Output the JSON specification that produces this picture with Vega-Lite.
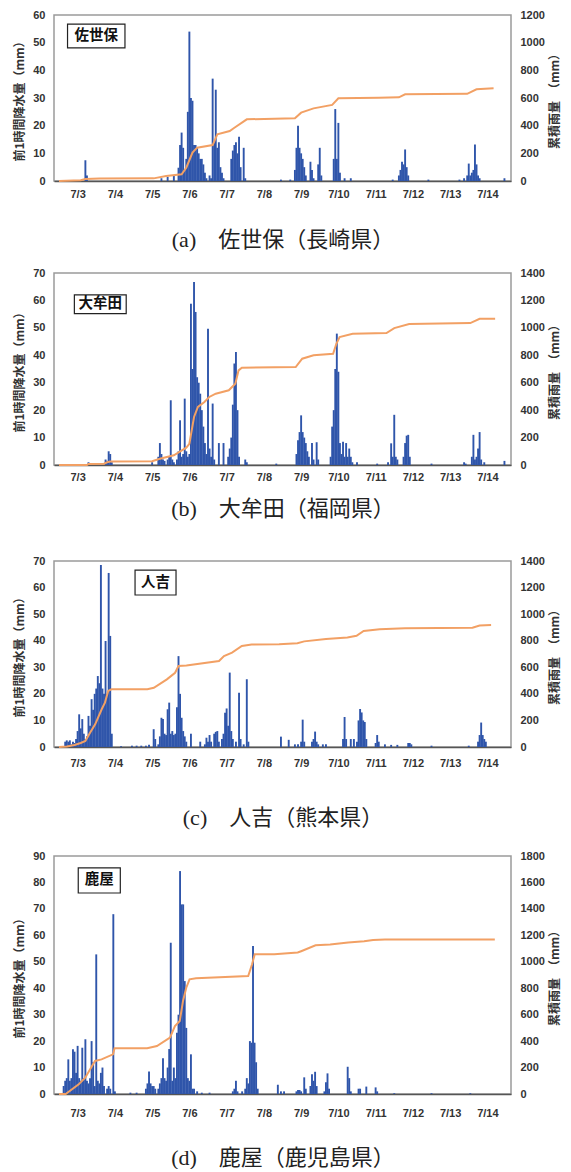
{
"$schema": "https://vega.github.io/schema/vega-lite/v6.json",
"padding": {"top": 8, "left": 13, "right": 0, "bottom": 0},
"spacing": 15,
"config": {
  "view": {"stroke": "#9a9a9a", "strokeWidth": 1.5},
  "axis": {"grid": false, "ticks": false, "domain": false, "labelFont": "Liberation Sans", "labelFontWeight": "bold", "labelFontSize": 11, "labelColor": "#333333", "titleFont": "Noto Sans CJK JP", "titleFontWeight": "bold", "titleFontSize": 12, "titleColor": "#333333"}
},
"datasets": {
  "a_bars": [{"h":17,"r":7.5},{"h":18,"r":2},{"h":66,"r":1},{"h":70,"r":1.5},{"h":74,"r":2},{"h":77,"r":4.8},{"h":78,"r":13},{"h":79,"r":17.5},{"h":80,"r":12},{"h":81,"r":4},{"h":82,"r":8},{"h":83,"r":25},{"h":84,"r":54},{"h":85,"r":30},{"h":86,"r":29},{"h":87,"r":13},{"h":88,"r":13},{"h":89,"r":12},{"h":90,"r":10},{"h":91,"r":8},{"h":92,"r":8},{"h":93,"r":6},{"h":94,"r":3},{"h":95,"r":1},{"h":97,"r":2},{"h":98,"r":1},{"h":99,"r":37},{"h":100,"r":14},{"h":101,"r":33},{"h":102,"r":12},{"h":103,"r":14},{"h":104,"r":5},{"h":105,"r":3},{"h":106,"r":1},{"h":111,"r":8},{"h":112,"r":11},{"h":113,"r":13},{"h":114,"r":14},{"h":115,"r":10},{"h":116,"r":16},{"h":117,"r":5},{"h":119,"r":12},{"h":120,"r":1},{"h":143,"r":0.5},{"h":149,"r":0.5},{"h":152,"r":4},{"h":153,"r":12},{"h":154,"r":20},{"h":155,"r":12},{"h":156,"r":10},{"h":157,"r":8},{"h":158,"r":5},{"h":159,"r":2},{"h":162,"r":7},{"h":163,"r":4},{"h":164,"r":1},{"h":167,"r":6},{"h":168,"r":12},{"h":169,"r":2},{"h":177,"r":8},{"h":178,"r":26},{"h":179,"r":8},{"h":180,"r":21},{"h":181,"r":3},{"h":184,"r":1},{"h":188,"r":1},{"h":215,"r":0.5},{"h":219,"r":2},{"h":220,"r":4},{"h":221,"r":7},{"h":222,"r":6},{"h":223,"r":11.4},{"h":224,"r":5},{"h":225,"r":2},{"h":238,"r":0.5},{"h":258,"r":0.5},{"h":261,"r":1},{"h":263,"r":2},{"h":264,"r":6.3},{"h":265,"r":2},{"h":266,"r":3},{"h":267,"r":4},{"h":268,"r":13.2},{"h":269,"r":6},{"h":270,"r":2},{"h":271,"r":1},{"h":287,"r":1}],
  "a_cum": [{"h":0,"c":0},{"h":14,"c":5},{"h":17,"c":15},{"h":26,"c":18},{"h":61,"c":19},{"h":69,"c":36},{"h":79,"c":48},{"h":82,"c":96},{"h":86,"c":205},{"h":89,"c":241},{"h":99,"c":260},{"h":102,"c":337},{"h":110,"c":361},{"h":113,"c":385},{"h":121,"c":446},{"h":152,"c":453},{"h":156,"c":494},{"h":164,"c":525},{"h":176,"c":550},{"h":180,"c":598},{"h":206,"c":602},{"h":219,"c":605},{"h":223,"c":627},{"h":263,"c":630},{"h":269,"c":663},{"h":280,"c":670}],
  "b_bars": [{"h":19,"r":1},{"h":30,"r":2},{"h":31,"r":1.5},{"h":32,"r":5},{"h":33,"r":4},{"h":34,"r":1},{"h":60,"r":1},{"h":64,"r":3},{"h":65,"r":8},{"h":66,"r":4},{"h":67,"r":2},{"h":68,"r":1.5},{"h":70,"r":2},{"h":71,"r":3},{"h":72,"r":23.6},{"h":73,"r":2},{"h":74,"r":1},{"h":76,"r":2},{"h":77,"r":5},{"h":78,"r":16.3},{"h":79,"r":3},{"h":80,"r":4},{"h":81,"r":24.2},{"h":82,"r":5},{"h":83,"r":3},{"h":84,"r":4},{"h":85,"r":58.8},{"h":86,"r":35},{"h":87,"r":66.7},{"h":88,"r":55.8},{"h":89,"r":32},{"h":90,"r":30},{"h":91,"r":26},{"h":92,"r":20},{"h":93,"r":14},{"h":94,"r":8},{"h":95,"r":4},{"h":96,"r":49.7},{"h":97,"r":6},{"h":98,"r":3},{"h":99,"r":22.4},{"h":100,"r":2},{"h":103,"r":8},{"h":106,"r":8},{"h":109,"r":3},{"h":110,"r":6},{"h":111,"r":10},{"h":112,"r":22},{"h":113,"r":37},{"h":114,"r":41.2},{"h":115,"r":20},{"h":116,"r":3},{"h":120,"r":2},{"h":121,"r":1},{"h":140,"r":0.5},{"h":153,"r":4},{"h":154,"r":9},{"h":155,"r":12},{"h":156,"r":18.1},{"h":157,"r":12},{"h":158,"r":10},{"h":159,"r":8},{"h":160,"r":5},{"h":161,"r":3},{"h":163,"r":8},{"h":164,"r":2},{"h":166,"r":8.3},{"h":167,"r":2},{"h":175,"r":3},{"h":176,"r":14},{"h":177,"r":20},{"h":178,"r":35},{"h":179,"r":47.9},{"h":180,"r":34},{"h":181,"r":8},{"h":182,"r":4},{"h":183,"r":8.5},{"h":184,"r":3},{"h":185,"r":8},{"h":186,"r":3},{"h":187,"r":6},{"h":188,"r":3},{"h":189,"r":1},{"h":192,"r":1},{"h":205,"r":0.5},{"h":212,"r":1},{"h":214,"r":7.9},{"h":215,"r":3},{"h":216,"r":18.3},{"h":217,"r":3},{"h":218,"r":2},{"h":222,"r":3},{"h":223,"r":8},{"h":224,"r":10.7},{"h":225,"r":11},{"h":226,"r":3},{"h":240,"r":0.5},{"h":261,"r":1},{"h":262,"r":0.5},{"h":266,"r":3},{"h":267,"r":11},{"h":268,"r":2},{"h":269,"r":3},{"h":270,"r":6},{"h":271,"r":12},{"h":272,"r":2},{"h":274,"r":1},{"h":287,"r":1.5}],
  "b_cum": [{"h":0,"c":0},{"h":18,"c":0},{"h":19,"c":8},{"h":29,"c":10},{"h":31,"c":20},{"h":33,"c":25},{"h":60,"c":28},{"h":65,"c":46},{"h":74,"c":71},{"h":82,"c":126},{"h":84,"c":155},{"h":87,"c":350},{"h":89.5,"c":423},{"h":93.7,"c":459},{"h":96.8,"c":496},{"h":101,"c":520},{"h":109.4,"c":545},{"h":113.6,"c":593},{"h":115.7,"c":690},{"h":117.8,"c":709},{"h":152.5,"c":714},{"h":156.7,"c":775},{"h":164,"c":800},{"h":176.6,"c":811},{"h":178.7,"c":884},{"h":180.8,"c":933},{"h":189.2,"c":957},{"h":211,"c":962},{"h":216,"c":998},{"h":225.6,"c":1028},{"h":265,"c":1035},{"h":271,"c":1066},{"h":281,"c":1066}],
  "c_bars": [{"h":4,"r":2},{"h":5,"r":2.5},{"h":6,"r":2},{"h":7,"r":2.5},{"h":8,"r":1},{"h":9,"r":2},{"h":10,"r":1.5},{"h":11,"r":3},{"h":12,"r":6},{"h":13,"r":12.3},{"h":14,"r":7},{"h":15,"r":10.5},{"h":16,"r":5},{"h":17,"r":3},{"h":18,"r":4},{"h":19,"r":11.7},{"h":20,"r":8},{"h":21,"r":18},{"h":22,"r":14},{"h":23,"r":20},{"h":24,"r":22},{"h":25,"r":26.7},{"h":26,"r":24},{"h":27,"r":68.5},{"h":28,"r":22},{"h":29,"r":20},{"h":30,"r":39.9},{"h":31,"r":20},{"h":32,"r":65.5},{"h":33,"r":41.8},{"h":34,"r":5},{"h":40,"r":0.3},{"h":47,"r":0.5},{"h":50,"r":0.5},{"h":53,"r":0.5},{"h":56,"r":0.5},{"h":58,"r":0.8},{"h":61,"r":6.7},{"h":62,"r":3},{"h":64,"r":1},{"h":65,"r":4},{"h":66,"r":11},{"h":67,"r":10.5},{"h":68,"r":5},{"h":69,"r":4.5},{"h":70,"r":14.2},{"h":71,"r":16.7},{"h":72,"r":5},{"h":73,"r":6},{"h":74,"r":4.5},{"h":75,"r":5},{"h":76,"r":15},{"h":77,"r":34.2},{"h":78,"r":20},{"h":79,"r":11},{"h":80,"r":6},{"h":81,"r":4},{"h":82,"r":2},{"h":85,"r":5},{"h":91,"r":2},{"h":94,"r":1},{"h":95,"r":3.5},{"h":96,"r":2},{"h":97,"r":4.5},{"h":98,"r":2},{"h":100,"r":5},{"h":101,"r":5.7},{"h":102,"r":6},{"h":103,"r":2},{"h":105,"r":3},{"h":106,"r":5},{"h":107,"r":12.9},{"h":108,"r":14.5},{"h":109,"r":8},{"h":110,"r":28},{"h":111,"r":6},{"h":112,"r":3},{"h":114,"r":2},{"h":116,"r":20.4},{"h":117,"r":3},{"h":119,"r":1},{"h":121,"r":25.5},{"h":122,"r":2},{"h":143,"r":3.9},{"h":148,"r":2.7},{"h":152,"r":1},{"h":154,"r":1},{"h":156,"r":2},{"h":157,"r":10.3},{"h":158,"r":2},{"h":163,"r":2},{"h":164,"r":3},{"h":165,"r":5.8},{"h":166,"r":2},{"h":167,"r":1},{"h":170,"r":1},{"h":172,"r":1},{"h":183,"r":3},{"h":184,"r":11.3},{"h":185,"r":3},{"h":188,"r":3},{"h":190,"r":3},{"h":192,"r":2},{"h":193,"r":10},{"h":194,"r":14.3},{"h":195,"r":13},{"h":196,"r":10},{"h":197,"r":9.4},{"h":198,"r":3},{"h":204,"r":1.5},{"h":205,"r":4.5},{"h":206,"r":2},{"h":210,"r":1},{"h":214,"r":0.8},{"h":218,"r":0.8},{"h":225,"r":1.5},{"h":226,"r":1.5},{"h":227,"r":1},{"h":240,"r":0.5},{"h":264,"r":0.5},{"h":270,"r":2},{"h":271,"r":4.5},{"h":272,"r":9.2},{"h":273,"r":4.5},{"h":274,"r":3},{"h":275,"r":2}],
  "c_cum": [{"h":0,"c":0},{"h":5,"c":3},{"h":10,"c":15},{"h":14,"c":30},{"h":17,"c":45},{"h":20,"c":108},{"h":23.3,"c":171},{"h":27.5,"c":284},{"h":29.6,"c":334},{"h":31.7,"c":422},{"h":33.8,"c":434},{"h":56.9,"c":434},{"h":61.1,"c":446},{"h":69.5,"c":509},{"h":74.8,"c":559},{"h":77,"c":610},{"h":82.1,"c":613},{"h":103.1,"c":647},{"h":106.3,"c":685},{"h":111.5,"c":710},{"h":117.8,"c":760},{"h":124.1,"c":771},{"h":141.8,"c":773},{"h":153.6,"c":781},{"h":158,"c":795},{"h":172,"c":813},{"h":185.8,"c":825},{"h":191.7,"c":837},{"h":196.3,"c":874},{"h":206.6,"c":886},{"h":223,"c":893},{"h":266.4,"c":898},{"h":271,"c":915},{"h":278.4,"c":918}],
  "d_bars": [{"h":3,"r":3},{"h":4,"r":5},{"h":5,"r":6},{"h":6,"r":13.1},{"h":7,"r":5},{"h":8,"r":6},{"h":9,"r":16.9},{"h":10,"r":16},{"h":11,"r":8},{"h":12,"r":18.2},{"h":13,"r":6},{"h":14,"r":5},{"h":15,"r":17.5},{"h":16,"r":6},{"h":17,"r":20.7},{"h":18,"r":5},{"h":19,"r":4},{"h":20,"r":6},{"h":21,"r":20},{"h":22,"r":12},{"h":23,"r":3},{"h":24,"r":52.8},{"h":25,"r":5},{"h":26,"r":4},{"h":27,"r":8},{"h":28,"r":10},{"h":29,"r":3},{"h":31,"r":2},{"h":32,"r":3},{"h":33,"r":2},{"h":35,"r":68},{"h":36,"r":1},{"h":46,"r":0.5},{"h":50,"r":0.5},{"h":56,"r":2},{"h":57,"r":4},{"h":58,"r":8.5},{"h":59,"r":4},{"h":60,"r":3},{"h":61,"r":3},{"h":62,"r":2},{"h":64,"r":2},{"h":65,"r":4},{"h":66,"r":6},{"h":67,"r":13.5},{"h":68,"r":6},{"h":69,"r":5},{"h":70,"r":10},{"h":71,"r":17},{"h":72,"r":57.2},{"h":73,"r":5},{"h":74,"r":10},{"h":75,"r":6},{"h":76,"r":23.2},{"h":77,"r":30},{"h":78,"r":84.3},{"h":79,"r":71.7},{"h":80,"r":71.7},{"h":81,"r":42.7},{"h":82,"r":25},{"h":83,"r":6},{"h":84,"r":5},{"h":85,"r":15},{"h":86,"r":2},{"h":87,"r":2},{"h":89,"r":1},{"h":92,"r":0.5},{"h":97,"r":0.5},{"h":112,"r":1},{"h":113,"r":2},{"h":114,"r":5},{"h":115,"r":1},{"h":118,"r":1},{"h":120,"r":2},{"h":121,"r":6},{"h":122,"r":4},{"h":123,"r":20},{"h":124,"r":19.4},{"h":125,"r":56},{"h":126,"r":19.4},{"h":127,"r":12},{"h":128,"r":2},{"h":141,"r":3.5},{"h":143,"r":1},{"h":145,"r":1},{"h":153,"r":1},{"h":154,"r":1.5},{"h":155,"r":1.5},{"h":156,"r":1},{"h":158,"r":6.3},{"h":159,"r":2},{"h":162,"r":3},{"h":163,"r":7.5},{"h":164,"r":5},{"h":165,"r":8.4},{"h":166,"r":3},{"h":171,"r":1},{"h":172,"r":4.4},{"h":173,"r":7.8},{"h":174,"r":2},{"h":186,"r":10.3},{"h":187,"r":6},{"h":188,"r":1},{"h":193,"r":2},{"h":194,"r":2},{"h":198,"r":2.8},{"h":204,"r":2.5},{"h":205,"r":1},{"h":216,"r":0.3},{"h":240,"r":0.3},{"h":265,"r":0.3}],
  "d_cum": [{"h":0,"c":0},{"h":4.3,"c":0},{"h":12.7,"c":73},{"h":16.9,"c":123},{"h":23.2,"c":250},{"h":27.4,"c":262},{"h":34.8,"c":300},{"h":35.8,"c":346},{"h":56.8,"c":346},{"h":63.1,"c":363},{"h":71.5,"c":426},{"h":74.7,"c":514},{"h":77.8,"c":552},{"h":79.9,"c":703},{"h":82,"c":804},{"h":84.1,"c":867},{"h":88.3,"c":875},{"h":121.9,"c":892},{"h":124.4,"c":981},{"h":126.1,"c":1057},{"h":138.7,"c":1057},{"h":153.8,"c":1070},{"h":156,"c":1080},{"h":165.3,"c":1125},{"h":174.7,"c":1130},{"h":186.3,"c":1145},{"h":196.6,"c":1155},{"h":202.4,"c":1165},{"h":210,"c":1168},{"h":280.8,"c":1168}]
},
"vconcat": [
{
  "width": 457, "height": 166,
  "resolve": {"scale": {"y": "independent"}},
  "layer": [
    {"data": {"name": "a_bars"}, "mark": {"type": "bar", "size": 1.9, "color": "#2f55aa", "orient": "vertical"},
     "encoding": {
      "x": {"field": "h", "type": "quantitative", "scale": {"domain": [0, 288], "nice": false, "zero": false},
        "axis": {"values": [12,36,60,84,108,132,156,180,204,228,252,276], "labelExpr": "'7/' + ((datum.value - 12) / 24 + 3)", "labelPadding": 7, "domain": true, "domainColor": "#555555", "domainWidth": 1.5, "title": "(a)　佐世保（長崎県）", "titleFont": "Liberation Serif, Noto Sans CJK JP", "titleFontSize": 22, "titleFontWeight": "normal", "titleColor": "#222222", "titlePadding": 30}},
      "y": {"field": "r", "type": "quantitative", "stack": null, "scale": {"domain": [0, 60], "nice": false},
        "axis": {"orient": "left", "values": [0,10,20,30,40,50,60], "format": "d", "title": "前1時間降水量（mm）", "labelPadding": 9, "titlePadding": 6}}}},
    {"data": {"name": "a_cum"}, "mark": {"type": "line", "color": "#f2a064", "strokeWidth": 2},
     "encoding": {
      "x": {"field": "h", "type": "quantitative"},
      "y": {"field": "c", "type": "quantitative", "scale": {"domain": [0, 1200], "nice": false},
        "axis": {"orient": "right", "values": [0,200,400,600,800,1000,1200], "format": "d", "title": "累積雨量　（mm）", "labelPadding": 9, "titlePadding": 5, "titleAngle": 270, "titleBaseline": "top"}}}},
    {"data": {"values": [{"name": "佐世保"}]}, "mark": {"type": "rect", "fill": "white", "stroke": "#222222", "strokeWidth": 1.2},
     "encoding": {"x": {"datum": 5.5, "type": "quantitative"}, "x2": {"datum": 42.5},
       "y": {"datum": 56.7, "type": "quantitative", "scale": {"domain": [0, 60], "nice": false}, "axis": null}, "y2": {"datum": 48.1}}},
    {"data": {"values": [{"name": "佐世保"}]}, "mark": {"type": "text", "font": "Noto Sans CJK JP", "fontWeight": "bold", "fontSize": 14.5, "color": "#111111"},
     "encoding": {"x": {"datum": 24, "type": "quantitative"},
       "y": {"datum": 52.4, "type": "quantitative", "scale": {"domain": [0, 60], "nice": false}, "axis": null}, "text": {"field": "name"}}}
  ]
},
{
  "width": 457, "height": 192,
  "resolve": {"scale": {"y": "independent"}},
  "layer": [
    {"data": {"name": "b_bars"}, "mark": {"type": "bar", "size": 1.9, "color": "#2f55aa", "orient": "vertical"},
     "encoding": {
      "x": {"field": "h", "type": "quantitative", "scale": {"domain": [0, 288], "nice": false, "zero": false},
        "axis": {"values": [12,36,60,84,108,132,156,180,204,228,252,276], "labelExpr": "'7/' + ((datum.value - 12) / 24 + 3)", "labelPadding": 6, "domain": true, "domainColor": "#555555", "domainWidth": 1.5, "title": "(b)　大牟田（福岡県）", "titleFont": "Liberation Serif, Noto Sans CJK JP", "titleFontSize": 22, "titleFontWeight": "normal", "titleColor": "#222222", "titlePadding": 16}},
      "y": {"field": "r", "type": "quantitative", "stack": null, "scale": {"domain": [0, 70], "nice": false},
        "axis": {"orient": "left", "values": [0,10,20,30,40,50,60,70], "format": "d", "title": "前1時間降水量（mm）", "labelPadding": 9, "titlePadding": 6}}}},
    {"data": {"name": "b_cum"}, "mark": {"type": "line", "color": "#f2a064", "strokeWidth": 2},
     "encoding": {
      "x": {"field": "h", "type": "quantitative"},
      "y": {"field": "c", "type": "quantitative", "scale": {"domain": [0, 1400], "nice": false},
        "axis": {"orient": "right", "values": [0,200,400,600,800,1000,1200,1400], "format": "d", "title": "累積雨量　（mm）", "labelPadding": 9, "titlePadding": 5, "titleAngle": 270, "titleBaseline": "top"}}}},
    {"data": {"values": [{"name": "大牟田"}]}, "mark": {"type": "rect", "fill": "white", "stroke": "#222222", "strokeWidth": 1.2},
     "encoding": {"x": {"datum": 9.9, "type": "quantitative"}, "x2": {"datum": 43.3},
       "y": {"datum": 62, "type": "quantitative", "scale": {"domain": [0, 70], "nice": false}, "axis": null}, "y2": {"datum": 55.2}}},
    {"data": {"values": [{"name": "大牟田"}]}, "mark": {"type": "text", "font": "Noto Sans CJK JP", "fontWeight": "bold", "fontSize": 14.5, "color": "#111111"},
     "encoding": {"x": {"datum": 26.6, "type": "quantitative"},
       "y": {"datum": 58.6, "type": "quantitative", "scale": {"domain": [0, 70], "nice": false}, "axis": null}, "text": {"field": "name"}}}
  ]
},
{
  "width": 457, "height": 186,
  "title": {"text": " ", "fontSize": 1, "offset": 18},
  "resolve": {"scale": {"y": "independent"}},
  "layer": [
    {"data": {"name": "c_bars"}, "mark": {"type": "bar", "size": 1.9, "color": "#2f55aa", "orient": "vertical"},
     "encoding": {
      "x": {"field": "h", "type": "quantitative", "scale": {"domain": [0, 288], "nice": false, "zero": false},
        "axis": {"values": [12,36,60,84,108,132,156,180,204,228,252,276], "labelExpr": "'7/' + ((datum.value - 12) / 24 + 3)", "labelPadding": 10, "domain": true, "domainColor": "#555555", "domainWidth": 1.5, "title": "(c)　人吉（熊本県）", "titleFont": "Liberation Serif, Noto Sans CJK JP", "titleFontSize": 22, "titleFontWeight": "normal", "titleColor": "#222222", "titlePadding": 39}},
      "y": {"field": "r", "type": "quantitative", "stack": null, "scale": {"domain": [0, 70], "nice": false},
        "axis": {"orient": "left", "values": [0,10,20,30,40,50,60,70], "format": "d", "title": "前1時間降水量（mm）", "labelPadding": 9, "titlePadding": 6}}}},
    {"data": {"name": "c_cum"}, "mark": {"type": "line", "color": "#f2a064", "strokeWidth": 2},
     "encoding": {
      "x": {"field": "h", "type": "quantitative"},
      "y": {"field": "c", "type": "quantitative", "scale": {"domain": [0, 1400], "nice": false},
        "axis": {"orient": "right", "values": [0,200,400,600,800,1000,1200,1400], "format": "d", "title": "累積雨量　（mm）", "labelPadding": 9, "titlePadding": 5, "titleAngle": 270, "titleBaseline": "top"}}}},
    {"data": {"values": [{"name": "人吉"}]}, "mark": {"type": "rect", "fill": "white", "stroke": "#222222", "strokeWidth": 1.2},
     "encoding": {"x": {"datum": 49, "type": "quantitative"}, "x2": {"datum": 75.4},
       "y": {"datum": 66.6, "type": "quantitative", "scale": {"domain": [0, 70], "nice": false}, "axis": null}, "y2": {"datum": 57.2}}},
    {"data": {"values": [{"name": "人吉"}]}, "mark": {"type": "text", "font": "Noto Sans CJK JP", "fontWeight": "bold", "fontSize": 14.5, "color": "#111111"},
     "encoding": {"x": {"datum": 62.2, "type": "quantitative"},
       "y": {"datum": 61.9, "type": "quantitative", "scale": {"domain": [0, 70], "nice": false}, "axis": null}, "text": {"field": "name"}}}
  ]
},
{
  "width": 457, "height": 238,
  "title": {"text": " ", "fontSize": 1, "offset": 4},
  "resolve": {"scale": {"y": "independent"}},
  "layer": [
    {"data": {"name": "d_bars"}, "mark": {"type": "bar", "size": 1.9, "color": "#2f55aa", "orient": "vertical"},
     "encoding": {
      "x": {"field": "h", "type": "quantitative", "scale": {"domain": [0, 288], "nice": false, "zero": false},
        "axis": {"values": [12,36,60,84,108,132,156,180,204,228,252,276], "labelExpr": "'7/' + ((datum.value - 12) / 24 + 3)", "labelPadding": 13, "domain": true, "domainColor": "#555555", "domainWidth": 1.5, "title": "(d)　鹿屋（鹿児島県）", "titleFont": "Liberation Serif, Noto Sans CJK JP", "titleFontSize": 22, "titleFontWeight": "normal", "titleColor": "#222222", "titlePadding": 29}},
      "y": {"field": "r", "type": "quantitative", "stack": null, "scale": {"domain": [0, 90], "nice": false},
        "axis": {"orient": "left", "values": [0,10,20,30,40,50,60,70,80,90], "format": "d", "title": "前1時間降水量（mm）", "labelPadding": 9, "titlePadding": 6}}}},
    {"data": {"name": "d_cum"}, "mark": {"type": "line", "color": "#f2a064", "strokeWidth": 2},
     "encoding": {
      "x": {"field": "h", "type": "quantitative"},
      "y": {"field": "c", "type": "quantitative", "scale": {"domain": [0, 1800], "nice": false},
        "axis": {"orient": "right", "values": [0,200,400,600,800,1000,1200,1400,1600,1800], "format": "d", "title": "累積雨量　（mm）", "labelPadding": 9, "titlePadding": 5, "titleAngle": 270, "titleBaseline": "top"}}}},
    {"data": {"values": [{"name": "鹿屋"}]}, "mark": {"type": "rect", "fill": "white", "stroke": "#222222", "strokeWidth": 1.2},
     "encoding": {"x": {"datum": 12.4, "type": "quantitative"}, "x2": {"datum": 39.5},
       "y": {"datum": 85.5, "type": "quantitative", "scale": {"domain": [0, 90], "nice": false}, "axis": null}, "y2": {"datum": 76}}},
    {"data": {"values": [{"name": "鹿屋"}]}, "mark": {"type": "text", "font": "Noto Sans CJK JP", "fontWeight": "bold", "fontSize": 14.5, "color": "#111111"},
     "encoding": {"x": {"datum": 26, "type": "quantitative"},
       "y": {"datum": 80.75, "type": "quantitative", "scale": {"domain": [0, 90], "nice": false}, "axis": null}, "text": {"field": "name"}}}
  ]
}
]
}
